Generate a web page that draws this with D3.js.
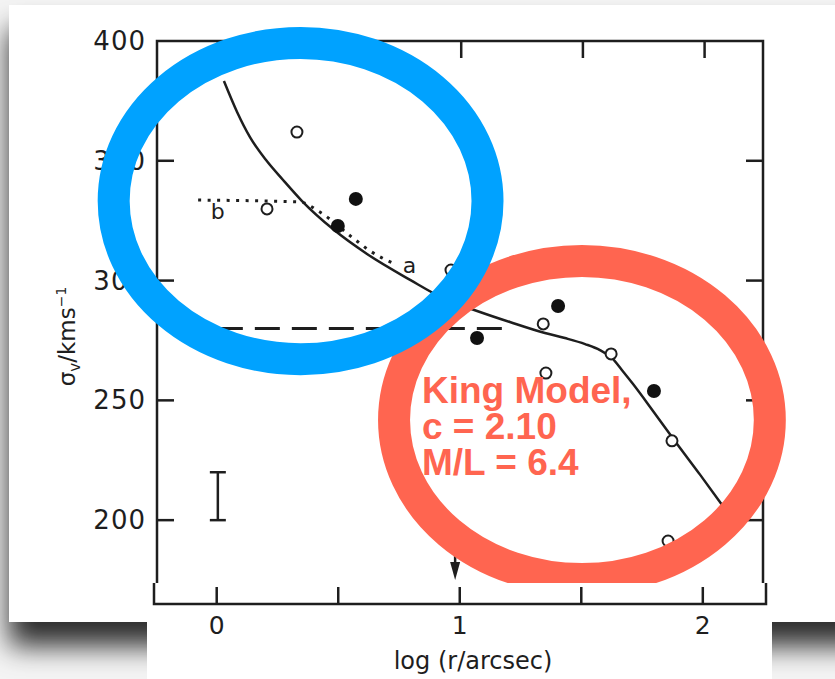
<!DOCTYPE html>
<html>
<head>
<meta charset="utf-8">
<script src="https://cdn.jsdelivr.net/npm/d3@7"></script>
<style>
  html, body { margin: 0; padding: 0; background: #f4f4f4; overflow: hidden; }
  svg { display: block; }
</style>
</head>
<body>
<svg id="chart" width="835" height="679"></svg>
<script>
// ---- data -------------------------------------------------------------
const xTicks = [0, 0.5, 1, 1.5, 2];
const xTickLabels = ["0", "", "1", "", "2"];
const yTicks = [200, 250, 300, 350, 400];
const yTickLabels = ["200", "250", "300", "350", "400"];

// open circles
const openX = [0.202, 0.325, 0.958, 1.337, 1.348, 1.616, 1.866, 1.850];
const openY = [329.9, 362.0, 304.4, 281.9, 261.4, 269.4, 233.1, 191.3];

// filled circles
const filledX = [0.493, 0.567, 1.065, 1.398, 1.792];
const filledY = [322.8, 334.1, 276.0, 289.4, 253.9];

// King model curve (solid)
const modelX = [0.025, 0.079, 0.132, 0.198, 0.268, 0.346, 0.473, 0.613, 0.790, 0.925, 1.077, 1.200, 1.344, 1.426, 1.509, 1.570, 1.619, 1.660, 1.706, 1.788, 1.887, 1.982, 2.072];
const modelY = [383.3, 370.4, 359.9, 350.3, 342.0, 333.2, 321.5, 311.1, 300.3, 292.7, 286.9, 282.7, 278.1, 276.0, 273.5, 271.0, 267.7, 262.7, 256.8, 245.6, 231.8, 218.9, 206.3];

// curve "b" (dotted)
const curveBX = [-0.081, 0.337, 0.419, 0.555, 0.625, 0.735];
const curveBY = [333.6, 332.8, 328.6, 317.8, 312.4, 306.6];

// dashed level
const dashX = [0, 1.2];
const dashY = [280, 280];

// typical error bar
const errX = 0, errLo = 200, errHi = 220;

// arrow marker
const arrowX = 0.975, arrowTop = 187, arrowTip = 175;

// annotation rings (centre in data units, radii in data units)
const blueRing = { cx: 0.34, cy: 333.2, rx: 0.768, ry: 66 };
const redRing  = { cx: 1.496, cy: 241.8, rx: 0.772, ry: 66.4 };
const noteLines = ["King Model,", "c = 2.10", "M/L = 6.4"];

// ---- scales -----------------------------------------------------------
const x = d3.scaleLinear().domain([-0.25, 2.24]).range([157, 763]);
const y = d3.scaleLinear().domain([165, 400]).range([604, 41]);
// the lower strip is a slightly wider copy of the axis
const xb = d3.scaleLinear().domain([-0.258, 2.26]).range([154, 766]);

const svg = d3.select("#chart");
const ink = "#1e1e1e";
const font = "'DejaVu Sans', sans-serif";

// ---- card with shadow --------------------------------------------------
const defs = svg.append("defs");
const f = defs.append("filter").attr("id", "shadow")
  .attr("x", "-20%").attr("y", "-20%").attr("width", "140%").attr("height", "140%");
f.append("feDropShadow").attr("dx", 0).attr("dy", 24).attr("stdDeviation", 14)
  .attr("flood-color", "#000").attr("flood-opacity", 0.82);

svg.append("rect").attr("x", 9).attr("y", 5).attr("width", 880).attr("height", 617)
  .attr("fill", "#fff").attr("filter", "url(#shadow)");

const g = svg.append("g");

// frame
g.append("rect").attr("x", x.range()[0]).attr("y", y(400))
  .attr("width", x.range()[1] - x.range()[0]).attr("height", y(165) - y(400))
  .attr("fill", "none").attr("stroke", ink).attr("stroke-width", 2.5);

// top ticks (inward)
const tl = 17;
g.selectAll(".tt").data(xTicks).join("line")
  .attr("x1", d => x(d)).attr("x2", d => x(d))
  .attr("y1", y(400)).attr("y2", y(400) + tl)
  .attr("stroke", ink).attr("stroke-width", 2.5);

// left / right ticks
g.selectAll(".lt").data(yTicks.filter(v => v < 400)).join("line")
  .attr("x1", x.range()[0]).attr("x2", x.range()[0] + tl)
  .attr("y1", d => y(d)).attr("y2", d => y(d))
  .attr("stroke", ink).attr("stroke-width", 2.5);
g.selectAll(".rt").data(yTicks.filter(v => v < 400)).join("line")
  .attr("x1", x.range()[1]).attr("x2", x.range()[1] - tl)
  .attr("y1", d => y(d)).attr("y2", d => y(d))
  .attr("stroke", ink).attr("stroke-width", 2.5);

// y tick labels
g.selectAll(".yl").data(yTicks).join("text")
  .attr("x", 146).attr("y", d => y(d) + 9)
  .attr("text-anchor", "end").attr("font-family", font).attr("font-size", 26)
  .attr("letter-spacing", 1).attr("fill", ink)
  .text((d, i) => yTickLabels[i]);

// y axis title
const yt = g.append("text")
  .attr("transform", `translate(75,${(y(300) + y(250)) / 2 - 4}) rotate(-90)`)
  .attr("text-anchor", "middle").attr("font-family", font).attr("font-size", 23).attr("fill", ink);
yt.append("tspan").text("σ");
yt.append("tspan").attr("font-size", 15).attr("dy", 5).text("v");
yt.append("tspan").attr("dy", -5).text("/kms");
yt.append("tspan").attr("font-size", 14).attr("dy", -9).text("−1");

// dashed level
g.append("path")
  .attr("d", d3.line().x(d => x(d[0])).y(d => y(d[1]))(dashX.map((v, i) => [v, dashY[i]])))
  .attr("fill", "none").attr("stroke", ink).attr("stroke-width", 3)
  .attr("stroke-dasharray", "25 12");

// dotted curve b
g.append("path")
  .attr("d", d3.line().x(d => x(d[0])).y(d => y(d[1])).curve(d3.curveMonotoneX)(curveBX.map((v, i) => [v, curveBY[i]])))
  .attr("fill", "none").attr("stroke", ink).attr("stroke-width", 3)
  .attr("stroke-dasharray", "3 6.5");

// model curve
g.append("path")
  .attr("d", d3.line().x(d => x(d[0])).y(d => y(d[1])).curve(d3.curveMonotoneX)(modelX.map((v, i) => [v, modelY[i]])))
  .attr("fill", "none").attr("stroke", ink).attr("stroke-width", 2.5);

// curve labels
g.append("text").attr("x", x(0)).attr("y", y(325.5)).attr("text-anchor", "middle")
  .attr("font-family", font).attr("font-size", 22).attr("fill", ink).text("b");
g.append("text").attr("x", x(0.787)).attr("y", y(303)).attr("text-anchor", "middle")
  .attr("font-family", font).attr("font-size", 22).attr("fill", ink).text("a");

// points
g.selectAll(".op").data(openX.map((v, i) => [v, openY[i]])).join("circle")
  .attr("cx", d => x(d[0])).attr("cy", d => y(d[1])).attr("r", 5.5)
  .attr("fill", "#fff").attr("stroke", ink).attr("stroke-width", 2);
g.selectAll(".fp").data(filledX.map((v, i) => [v, filledY[i]])).join("circle")
  .attr("cx", d => x(d[0])).attr("cy", d => y(d[1])).attr("r", 7)
  .attr("fill", "#111");

// error bar
g.append("line").attr("x1", x(errX)).attr("x2", x(errX)).attr("y1", y(errLo)).attr("y2", y(errHi))
  .attr("stroke", ink).attr("stroke-width", 2.5);
[errLo, errHi].forEach(v => g.append("line")
  .attr("x1", x(errX) - 8).attr("x2", x(errX) + 8).attr("y1", y(v)).attr("y2", y(v))
  .attr("stroke", ink).attr("stroke-width", 2.5));

// arrow
g.append("line").attr("x1", x(arrowX)).attr("x2", x(arrowX))
  .attr("y1", y(arrowTop)).attr("y2", y(arrowTip) - 14)
  .attr("stroke", ink).attr("stroke-width", 2.5);
g.append("path")
  .attr("d", `M${x(arrowX) - 5},${y(arrowTip) - 18} L${x(arrowX) + 5},${y(arrowTip) - 18} L${x(arrowX)},${y(arrowTip)} Z`)
  .attr("fill", ink);

// ---- annotation rings --------------------------------------------------
const ring = (r, color) => svg.append("ellipse")
  .attr("cx", x(r.cx)).attr("cy", y(r.cy))
  .attr("rx", x(r.cx + r.rx) - x(r.cx)).attr("ry", y(r.cy - r.ry) - y(r.cy))
  .attr("fill", "none").attr("stroke", color).attr("stroke-width", 32);
ring(redRing, "#FF6550");
ring(blueRing, "#00A2FF");

// ---- lower strip (x axis) ----------------------------------------------
const b = svg.append("g");
b.append("rect").attr("x", 147).attr("y", 583).attr("width", 625).attr("height", 96).attr("fill", "#fff");
b.append("path")
  .attr("d", `M${xb.range()[0]},583 V${y(165)} H${xb.range()[1]} V583`)
  .attr("fill", "none").attr("stroke", ink).attr("stroke-width", 2.5);
b.selectAll(".bt").data(xTicks).join("line")
  .attr("x1", d => xb(d)).attr("x2", d => xb(d))
  .attr("y1", y(165)).attr("y2", y(165) - tl)
  .attr("stroke", ink).attr("stroke-width", 2.5);
b.selectAll(".xl").data(xTicks).join("text")
  .attr("x", d => xb(d)).attr("y", 634)
  .attr("text-anchor", "middle").attr("font-family", font).attr("font-size", 25).attr("fill", ink)
  .text((d, i) => xTickLabels[i]);
b.append("text").attr("x", 473).attr("y", 669).attr("text-anchor", "middle")
  .attr("font-family", font).attr("font-size", 24).attr("fill", ink).text("log (r/arcsec)");

// ---- model note --------------------------------------------------------
const note = svg.append("text").attr("font-family", "'Liberation Sans', Arial, sans-serif")
  .attr("font-weight", "bold").attr("font-size", 37).attr("fill", "#FF6550");
noteLines.forEach((t, i) => note.append("tspan").attr("x", 422).attr("y", 403 + i * 36).text(t));
</script>
</body>
</html>
